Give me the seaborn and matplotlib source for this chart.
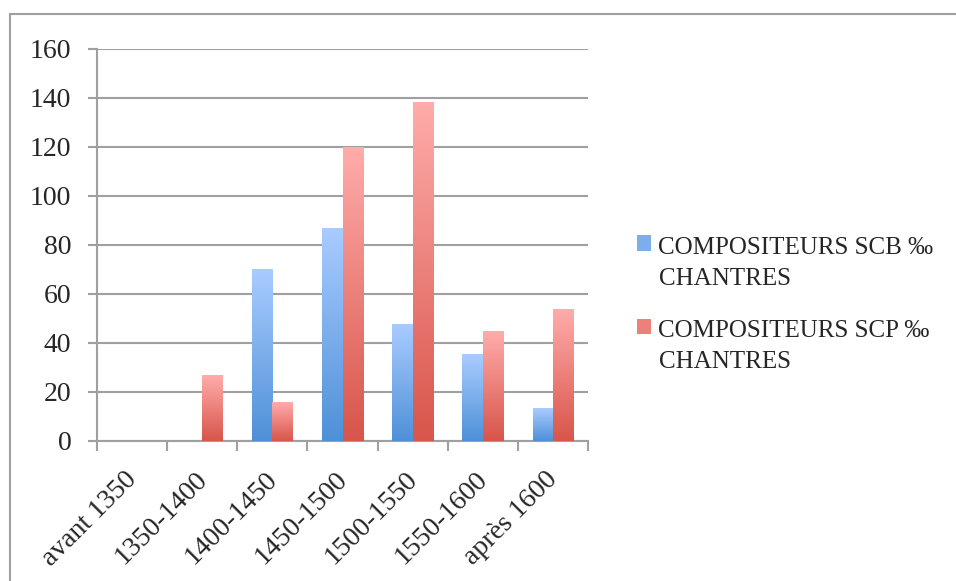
import numpy as np
import pandas as pd
import seaborn as sns
import matplotlib
matplotlib.use('Agg')
import matplotlib.pyplot as plt
import matplotlib.transforms as mtrans
from matplotlib.colors import LinearSegmentedColormap
from matplotlib.patches import Patch, Rectangle
from matplotlib.lines import Line2D
from matplotlib.legend_handler import HandlerPatch

sns.set_style('white')
plt.rcParams['font.family'] = ['Liberation Serif', 'DejaVu Serif']

periodes = ['avant 1350', '1350-1400', '1400-1450', '1450-1500',
            '1500-1550', '1550-1600', 'après 1600']
scb = [0, 0, 70, 86.5, 47.3, 35.1, 13.1]
scp = [0, 26.5, 15.5, 119.6, 138, 44.5, 53.5]
series = ['COMPOSITEURS SCB ‰\nCHANTRES', 'COMPOSITEURS SCP ‰\nCHANTRES']

df = pd.DataFrame({
    'periode': periodes * 2,
    'valeur': scb + scp,
    'serie': [series[0]] * len(periodes) + [series[1]] * len(periodes),
})

# top / bottom colours of the gradients
grads = [('#A9CCFF', '#4E90D8'), ('#FFACAB', '#D8554A')]
mid = ['#7BAEEB', '#EC807A']

fig = plt.figure(figsize=(9.56, 5.81), dpi=100)
ax = fig.add_axes([97 / 956, 1 - 441 / 581, (588 - 97) / 956, (441 - 48.5) / 581])

sns.barplot(data=df, x='periode', y='valeur', hue='serie', palette=mid,
            width=0.58, ax=ax, legend=False, zorder=3)

grad = np.linspace(0, 1, 256).reshape(-1, 1)
for cont, (top, bot) in zip(ax.containers, grads):
    cmap = LinearSegmentedColormap.from_list('g', [bot, top])
    for bar in cont:
        x, w, h = bar.get_x(), bar.get_width(), bar.get_height()
        bar.set_visible(False)
        if h <= 0:
            continue
        ax.imshow(grad, cmap=cmap, extent=[x, x + w, 0, h], origin='lower',
                  aspect='auto', zorder=3)
ax.set_xlim(-0.5, len(periodes) - 0.5)
ax.set_ylim(0, 160)

grey = '#A0A0A0'
ax.set_yticks(np.arange(0, 161, 20))
ax.yaxis.grid(True, color=grey, lw=1.5)
ax.set_axisbelow(True)
ax.tick_params(axis='y', length=6.5, width=1.5, color=grey, pad=12, labelsize=20, left=True)

ax.set_xticks(range(len(periodes)))
ax.set_xticklabels(periodes, rotation=45, ha='right', rotation_mode='anchor')
ax.set_xticks(np.arange(-0.5, len(periodes), 1), minor=True)
ax.tick_params(axis='x', which='major', length=0, pad=25, labelsize=20)
ax.tick_params(axis='x', which='minor', length=7, width=1.5, color=grey, bottom=True)
shift = mtrans.ScaledTranslation(1 / 100, 0, fig.dpi_scale_trans)
for lab in ax.get_xticklabels():
    lab.set_va('center')
    lab.set_transform(lab.get_transform() + shift)

for s in ['top', 'right']:
    ax.spines[s].set_visible(False)
for s in ['left', 'bottom']:
    ax.spines[s].set_color(grey)
    ax.spines[s].set_linewidth(1.5)
ax.set_xlabel('')
ax.set_ylabel('')


def top_square(legend, orig_handle, xdescent, ydescent, width, height, fontsize):
    # square aligned with the first line of the two-line label
    return Rectangle((-xdescent, -ydescent + 0.8 * fontsize), width, height)


handles = [Patch(facecolor=c, edgecolor='none') for c in mid]
leg = fig.legend(handles, series, loc='center left',
                 bbox_to_anchor=(637 / 956, 1 - 305 / 581), frameon=False,
                 borderaxespad=0, borderpad=0,
                 fontsize=18, handlelength=0.56, handleheight=0.56,
                 handletextpad=0.3, labelspacing=1.2,
                 handler_map={Patch: HandlerPatch(patch_func=top_square)})
for t in leg.get_texts():
    t.set_linespacing(1.55)

# outer chart border (left and top edges only visible)
fig.add_artist(Line2D([9.5 / 956, 9.5 / 956], [0, 1 - 13.5 / 581], color=grey, lw=1.5))
fig.add_artist(Line2D([9.5 / 956, 1], [1 - 13.5 / 581, 1 - 13.5 / 581], color=grey, lw=1.5))

fig.savefig('out.png', dpi=100)
